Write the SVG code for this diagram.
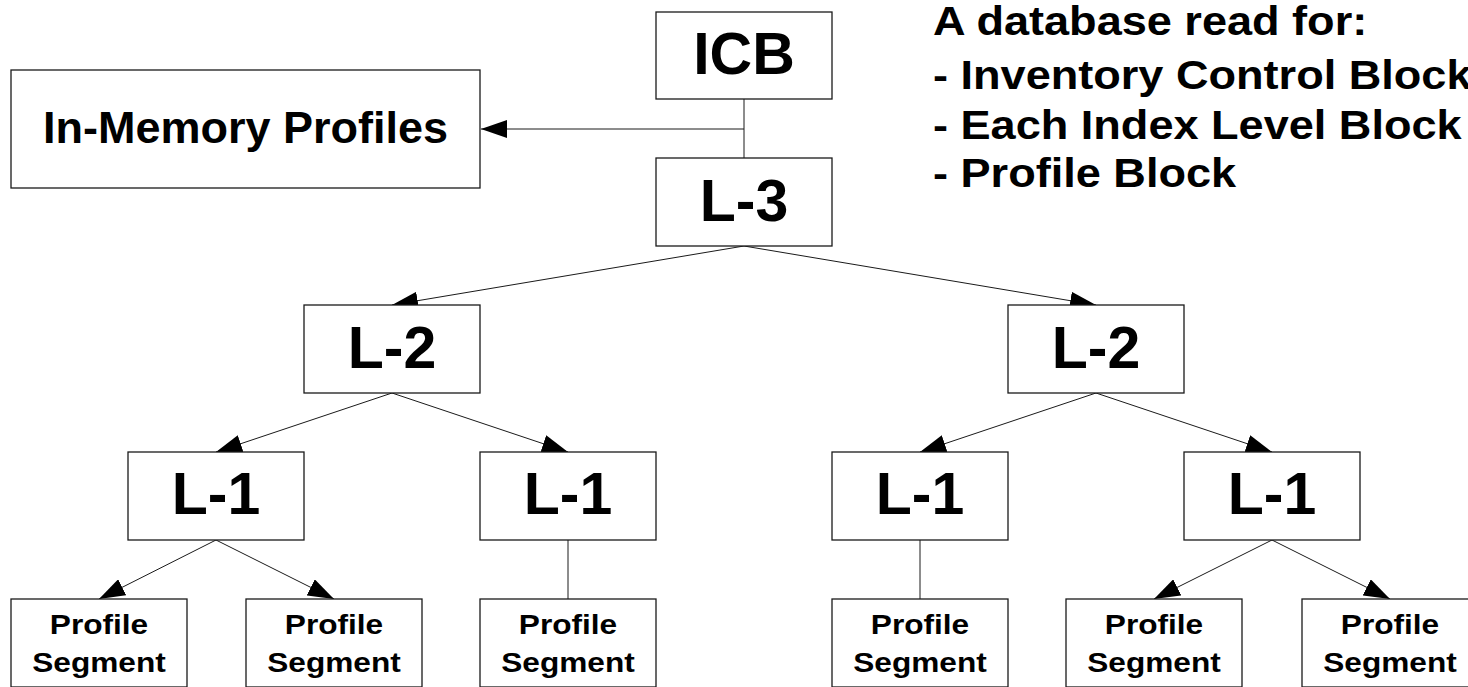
<svg xmlns="http://www.w3.org/2000/svg" width="1468" height="687" viewBox="0 0 1468 687">
  <style>
    .box { fill: #ffffff; stroke: #1a1a1a; stroke-width: 1.3; }
    .big { font-family: "Liberation Sans", Arial, sans-serif; font-weight: bold; font-size: 59px; fill: #000; text-anchor: middle; }
    .mid { font-family: "Liberation Sans", Arial, sans-serif; font-weight: bold; font-size: 45px; fill: #000; text-anchor: middle; }
    .small { font-family: "Liberation Sans", Arial, sans-serif; font-weight: bold; font-size: 28px; fill: #000; text-anchor: middle; }
    .note { font-family: "Liberation Sans", Arial, sans-serif; font-weight: bold; font-size: 41px; fill: #000; }
    .link { stroke: #1a1a1a; stroke-width: 1; fill: none; }
    .arrow { marker-end: url(#head); }
  </style>
  <defs>
    <marker id="head" markerUnits="userSpaceOnUse" markerWidth="26" markerHeight="18" refX="26" refY="9" orient="auto">
      <path d="M0,0 L26,9 L0,18 Z" fill="#000"/>
    </marker>
  </defs>

  <!-- connectors -->
  <g id="connectors">
    <line class="link" x1="744" y1="99" x2="744" y2="158"/>
    <line class="link arrow" x1="744" y1="129" x2="481" y2="129"/>
    <line class="link arrow" x1="744" y1="246" x2="392" y2="305"/>
    <line class="link arrow" x1="744" y1="246" x2="1096" y2="305"/>
    <line class="link arrow" x1="392" y1="393" x2="216" y2="452"/>
    <line class="link arrow" x1="392" y1="393" x2="568" y2="452"/>
    <line class="link arrow" x1="1096" y1="393" x2="920" y2="452"/>
    <line class="link arrow" x1="1096" y1="393" x2="1272" y2="452"/>
    <line class="link arrow" x1="216" y1="540" x2="99" y2="599"/>
    <line class="link arrow" x1="216" y1="540" x2="334" y2="599"/>
    <line class="link" x1="568" y1="540" x2="568" y2="599"/>
    <line class="link" x1="920" y1="540" x2="920" y2="599"/>
    <line class="link arrow" x1="1272" y1="540" x2="1154" y2="599"/>
    <line class="link arrow" x1="1272" y1="540" x2="1390" y2="599"/>
  </g>

  <!-- top of the index -->
  <g id="icb">
    <rect class="box" x="656" y="12" width="176" height="87"/>
    <text class="big" x="744" y="74">ICB</text>
  </g>
  <g id="in-memory-profiles">
    <rect class="box" x="11" y="70" width="469" height="118"/>
    <text class="mid" x="245.5" y="143">In-Memory Profiles</text>
  </g>
  <g id="level3">
    <rect class="box" x="656" y="158" width="176" height="88"/>
    <text class="big" x="744" y="221">L-3</text>
  </g>

  <!-- level 2 -->
  <g id="level2-a">
    <rect class="box" x="304" y="305" width="176" height="88"/>
    <text class="big" x="392" y="368">L-2</text>
  </g>
  <g id="level2-b">
    <rect class="box" x="1008" y="305" width="176" height="88"/>
    <text class="big" x="1096" y="368">L-2</text>
  </g>

  <!-- level 1 -->
  <g id="level1-a">
    <rect class="box" x="128" y="452" width="176" height="88"/>
    <text class="big" x="216" y="514">L-1</text>
  </g>
  <g id="level1-b">
    <rect class="box" x="480" y="452" width="176" height="88"/>
    <text class="big" x="568" y="514">L-1</text>
  </g>
  <g id="level1-c">
    <rect class="box" x="832" y="452" width="176" height="88"/>
    <text class="big" x="920" y="514">L-1</text>
  </g>
  <g id="level1-d">
    <rect class="box" x="1184" y="452" width="176" height="88"/>
    <text class="big" x="1272" y="514">L-1</text>
  </g>

  <!-- profile segments -->
  <g id="segment-1">
    <rect class="box" x="11" y="599" width="176" height="88"/>
    <text class="small" transform="translate(99 634) scale(1.13 1)">Profile</text>
    <text class="small" transform="translate(99 672) scale(1.13 1)">Segment</text>
  </g>
  <g id="segment-2">
    <rect class="box" x="246" y="599" width="176" height="88"/>
    <text class="small" transform="translate(334 634) scale(1.13 1)">Profile</text>
    <text class="small" transform="translate(334 672) scale(1.13 1)">Segment</text>
  </g>
  <g id="segment-3">
    <rect class="box" x="480" y="599" width="176" height="88"/>
    <text class="small" transform="translate(568 634) scale(1.13 1)">Profile</text>
    <text class="small" transform="translate(568 672) scale(1.13 1)">Segment</text>
  </g>
  <g id="segment-4">
    <rect class="box" x="832" y="599" width="176" height="88"/>
    <text class="small" transform="translate(920 634) scale(1.13 1)">Profile</text>
    <text class="small" transform="translate(920 672) scale(1.13 1)">Segment</text>
  </g>
  <g id="segment-5">
    <rect class="box" x="1066" y="599" width="176" height="88"/>
    <text class="small" transform="translate(1154 634) scale(1.13 1)">Profile</text>
    <text class="small" transform="translate(1154 672) scale(1.13 1)">Segment</text>
  </g>
  <g id="segment-6">
    <rect class="box" x="1302" y="599" width="176" height="88"/>
    <text class="small" transform="translate(1390 634) scale(1.13 1)">Profile</text>
    <text class="small" transform="translate(1390 672) scale(1.13 1)">Segment</text>
  </g>

  <!-- explanatory note -->
  <g id="note" transform="translate(933 0) scale(1.1 1)">
    <text class="note" x="0" y="35">A database read for:</text>
    <text class="note" x="0" y="89">- Inventory Control Block</text>
    <text class="note" x="0" y="139">- Each Index Level Block</text>
    <text class="note" x="0" y="187">- Profile Block</text>
  </g>
</svg>
